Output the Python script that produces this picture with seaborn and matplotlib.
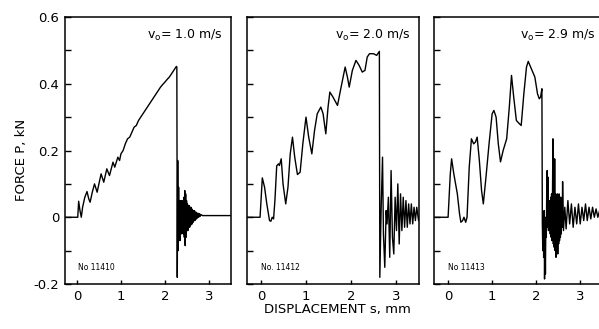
import numpy as np
import pandas as pd
import matplotlib
matplotlib.use("Agg")
import matplotlib.pyplot as plt
import seaborn as sns

# ---- data ----
speeds = ["1.0", "2.0", "2.9"]
record_nos = ["No 11410", "No. 11412", "No 11413"]

disp1 = [-0.35, 0.02, 0.04, 0.07, 0.10, 0.13, 0.18, 0.23, 0.27, 0.30, 0.35, 0.40,
         0.46, 0.50, 0.55, 0.61, 0.68, 0.74, 0.82, 0.86, 0.93, 0.97, 1.00, 1.05,
         1.10, 1.15, 1.20, 1.25, 1.30, 1.35, 1.40, 1.45, 1.50, 1.55, 1.60, 1.65,
         1.70, 1.75, 1.80, 1.85, 1.90, 1.95, 2.00, 2.05, 2.10, 2.15, 2.20, 2.26,
         2.27,
         2.28, 2.29, 2.30, 2.31, 2.32, 2.33, 2.34, 2.35, 2.36, 2.37, 2.38, 2.39,
         2.40, 2.41, 2.42, 2.43, 2.44, 2.45, 2.46, 2.47, 2.48, 2.49, 2.50, 2.51,
         2.52, 2.53, 2.54, 2.55, 2.56, 2.57, 2.58, 2.59, 2.60, 2.61, 2.62, 2.63,
         2.64, 2.65, 2.66, 2.67, 2.68, 2.69, 2.70, 2.71, 2.72, 2.73, 2.74, 2.75,
         2.76, 2.77, 2.78, 2.79, 2.80, 2.82, 2.85, 3.60]
force1 = [0.0, 0.0, 0.048, 0.02, 0.0, 0.03, 0.06, 0.077, 0.055, 0.045, 0.075, 0.10,
          0.075, 0.10, 0.13, 0.105, 0.145, 0.125, 0.165, 0.15, 0.18, 0.17, 0.19, 0.20,
          0.22, 0.235, 0.24, 0.255, 0.27, 0.275, 0.29, 0.30, 0.31, 0.32, 0.33, 0.34,
          0.35, 0.36, 0.37, 0.38, 0.39, 0.398, 0.405, 0.413, 0.42, 0.43, 0.44, 0.452,
          0.45,
          -0.18, 0.17, -0.10, 0.09, -0.06, 0.05, -0.07, 0.05, -0.04, 0.05, -0.05, 0.04,
          -0.04, 0.05, -0.05, 0.06, -0.06, 0.08, -0.085, 0.07, -0.06, 0.05, -0.04, 0.04,
          -0.04, 0.035, -0.03, 0.035, -0.03, 0.03, -0.025, 0.03, -0.02, 0.025, -0.02, 0.02,
          -0.015, 0.02, -0.01, 0.02, -0.01, 0.015, -0.005, 0.015, -0.005, 0.012, 0.0, 0.012,
          0.0, 0.01, 0.002, 0.01, 0.003, 0.008, 0.005, 0.005]

disp2 = [-0.40, -0.02, 0.03, 0.08, 0.13, 0.19, 0.22, 0.25, 0.28, 0.31, 0.35, 0.39,
         0.41, 0.45, 0.49, 0.55, 0.60, 0.65, 0.70, 0.75, 0.81, 0.87, 0.93, 1.00,
         1.06, 1.13, 1.19, 1.25, 1.33, 1.38, 1.44, 1.49, 1.53, 1.60, 1.70, 1.78,
         1.87, 1.92, 1.96, 2.03, 2.11, 2.18, 2.25, 2.31, 2.36, 2.41, 2.50, 2.57,
         2.63,
         2.64, 2.67, 2.70, 2.72, 2.75, 2.78, 2.80, 2.83, 2.86, 2.89, 2.92, 2.95,
         2.98, 3.01, 3.04, 3.07, 3.10, 3.13, 3.16, 3.19, 3.22, 3.25, 3.28, 3.31,
         3.34, 3.37, 3.40, 3.43, 3.46, 3.50, 3.55]
force2 = [0.0, 0.0, 0.118, 0.09, 0.04, -0.01, -0.012, 0.0, -0.005, 0.05, 0.154, 0.16,
          0.155, 0.175, 0.10, 0.04, 0.09, 0.19, 0.24, 0.18, 0.128, 0.135, 0.22, 0.30,
          0.24, 0.19, 0.26, 0.31, 0.33, 0.31, 0.25, 0.33, 0.375, 0.36, 0.335, 0.39,
          0.45, 0.42, 0.39, 0.44, 0.47, 0.455, 0.435, 0.44, 0.48, 0.49, 0.49, 0.485,
          0.497,
          -0.18, 0.03, 0.18, -0.05, -0.15, 0.02, -0.02, 0.06, -0.12, 0.14, -0.06, -0.11,
          0.06, -0.04, 0.10, -0.08, 0.07, -0.04, 0.06, -0.03, 0.05, -0.03, 0.04, -0.02,
          0.04, -0.02, 0.03, -0.01, 0.03, -0.01, 0.02]

disp3 = [-0.40, 0.00, 0.05, 0.08, 0.13, 0.17, 0.21, 0.26, 0.29, 0.33, 0.36, 0.40,
         0.43, 0.48, 0.53, 0.58, 0.62, 0.66, 0.71, 0.76, 0.80, 0.86, 0.93, 1.00,
         1.04, 1.09, 1.14, 1.19, 1.25, 1.33, 1.39, 1.44, 1.49, 1.55, 1.62, 1.66,
         1.72, 1.78, 1.82, 1.89, 1.97, 2.03, 2.07, 2.10, 2.13,
         2.14, 2.15, 2.16, 2.17, 2.18, 2.19, 2.20, 2.21, 2.22, 2.23, 2.24, 2.25,
         2.26, 2.27, 2.28, 2.29, 2.30, 2.31, 2.32, 2.33, 2.34, 2.35, 2.36, 2.37,
         2.38, 2.39, 2.40, 2.41, 2.42, 2.43, 2.44, 2.45, 2.46, 2.47, 2.48, 2.49,
         2.50, 2.51, 2.52, 2.53, 2.54, 2.55, 2.56, 2.57, 2.58, 2.59, 2.60, 2.62,
         2.65, 2.68, 2.72, 2.76, 2.80, 2.84, 2.88, 2.92, 2.96, 3.00, 3.04, 3.08,
         3.12, 3.16, 3.20, 3.24, 3.28, 3.32, 3.36, 3.40, 3.44, 3.48, 3.55]
force3 = [0.0, 0.0, 0.13, 0.175, 0.13, 0.10, 0.07, 0.01, -0.015, -0.01, 0.0, -0.015,
          0.0, 0.15, 0.235, 0.22, 0.225, 0.24, 0.17, 0.08, 0.04, 0.12, 0.22, 0.31,
          0.32, 0.30, 0.22, 0.166, 0.20, 0.235, 0.33, 0.425, 0.36, 0.29, 0.28, 0.275,
          0.37, 0.45, 0.467, 0.445, 0.42, 0.37, 0.355, 0.36, 0.385,
          -0.02, -0.10, 0.0, -0.12, 0.02, -0.185, -0.05, -0.17, 0.0, -0.06, 0.08, 0.14,
          -0.03, 0.12, -0.04, 0.03, -0.02, 0.05, -0.05, 0.06, -0.06, 0.07, -0.07, 0.06,
          0.235, -0.08, 0.07, -0.09, 0.175, -0.10, 0.07, -0.12, 0.06, -0.10, 0.07, -0.11,
          0.06, -0.08, 0.07, -0.07, 0.06, -0.06, 0.06, -0.05, 0.05, -0.03, 0.107, -0.04,
          0.03, -0.035, 0.05, -0.02, 0.04, -0.03, 0.03, -0.02, 0.04, -0.02, 0.03, -0.01,
          0.04, -0.01, 0.03, -0.005, 0.03, 0.0, 0.025, 0.0, 0.02, 0.005, 0.01]

records = [(disp1, force1), (disp2, force2), (disp3, force3)]

y_ticks = [-0.2, 0.0, 0.2, 0.4, 0.6]
y_tick_labels = ["-0.2", "0", "0.2", "0.4", "0.6"]
y_minor = [-0.1, 0.1, 0.3, 0.5]
x_ticks = [0, 1, 2, 3]

sns.set_theme(style="ticks")
plt.rcParams["font.family"] = ["DejaVu Sans"]
plt.rcParams["mathtext.fontset"] = "dejavusans"

W, H = 599, 329
fig = plt.figure(figsize=(W / 100, H / 100), dpi=100)

# panel boxes in pixels: left, width, xlim
boxes = [(65, 166, (-0.27, 3.5)), (247, 172, (-0.31, 3.51)), (434, 170, (-0.32, 3.54))]
top_px, bot_px = 17, 284

for i, ((left, width, xlim), (d, f)) in enumerate(zip(boxes, records)):
    ax = fig.add_axes([left / W, 1 - bot_px / H, width / W, (bot_px - top_px) / H])
    df = pd.DataFrame({"disp": d, "force": f})
    sns.lineplot(data=df, x="disp", y="force", ax=ax, sort=False, estimator=None,
                 color="black", linewidth=1.0)
    ax.set_xlim(*xlim)
    ax.set_ylim(-0.2, 0.6)
    ax.set_xticks(x_ticks)
    ax.set_yticks(y_ticks)
    ax.set_yticks(y_minor, minor=True)
    if i == 0:
        ax.set_yticklabels(y_tick_labels)
    else:
        ax.set_yticklabels([])
    ax.tick_params(axis="both", which="both", direction="in", length=4, width=1.0,
                   colors="black", labelsize=9.5, pad=4)
    ax.tick_params(axis="x", length=3)
    ax.set_xlabel("")
    ax.set_ylabel("")
    for s in ax.spines.values():
        s.set_linewidth(1.1)
        s.set_color("black")
        s.set_visible(True)
    ax.text(0.95, 0.93, r"v$_\mathrm{o}$= " + speeds[i] + " m/s", transform=ax.transAxes,
            ha="right", va="center", fontsize=9, color="black")
    ax.text(0.08, 0.06, record_nos[i], transform=ax.transAxes, ha="left",
            va="center", fontsize=5.5, color="black")

fig.text(22 / W, 1 - 160 / H, "FORCE P, kN", rotation=90, ha="center", va="center",
         fontsize=9.5, color="black")
fig.text(337 / W, 1 - 310 / H, "DISPLACEMENT s, mm", ha="center", va="center",
         fontsize=9.5, color="black")

fig.savefig("out.png", dpi=100, facecolor="white")
